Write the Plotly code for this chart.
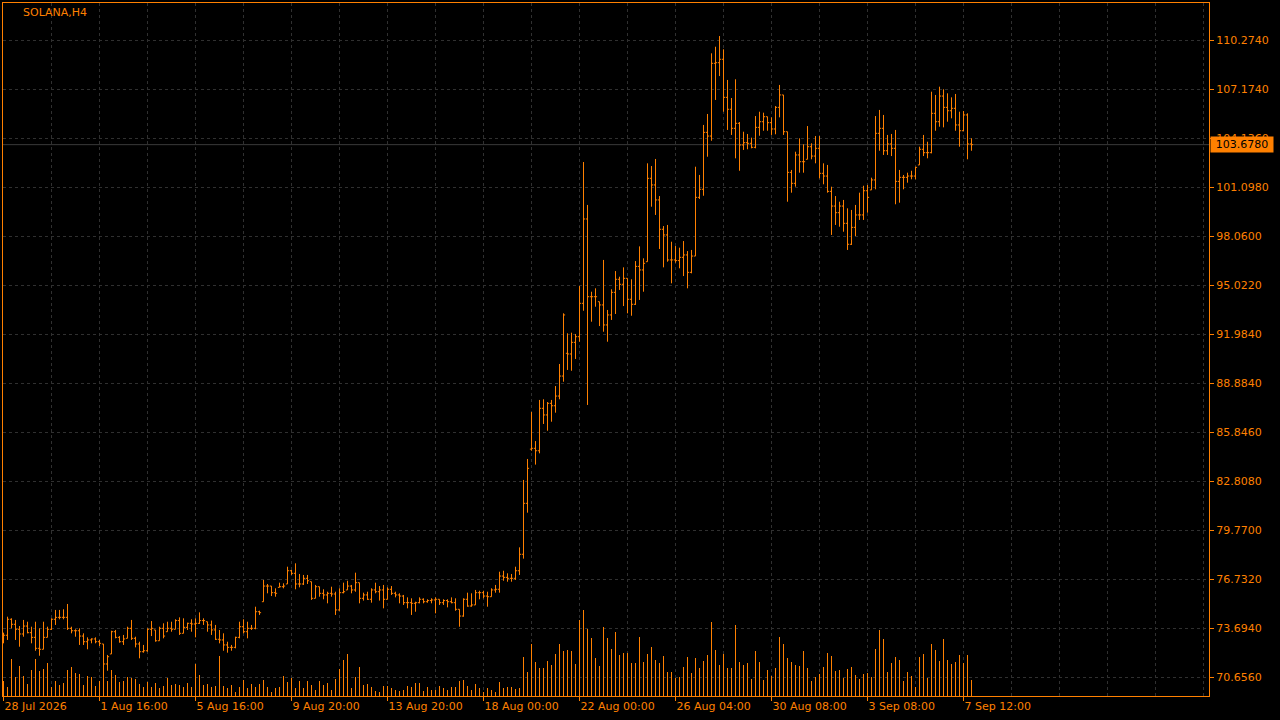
import plotly.graph_objects as go

# ---------------- data (SOLANA, H4) ----------------
bar_index = list(range(243))

opens = [
    73.10, 73.26, 74.25, 73.94, 73.63, 73.34, 73.83, 73.42, 73.13, 72.45,
    72.39, 73.13, 73.63, 74.25, 74.37, 74.37, 74.37, 73.69, 73.54, 73.54,
    73.21, 72.86, 72.97, 73.03, 72.86, 72.72, 71.48, 72.10, 73.48, 73.13,
    72.86, 73.07, 73.69, 73.07, 72.72, 72.24, 72.30, 73.63, 73.59, 72.92,
    73.69, 73.48, 73.69, 73.63, 74.17, 73.38, 73.75, 74.00, 73.96, 74.00,
    74.17, 74.10, 73.90, 73.59, 73.01, 72.97, 72.66, 72.51, 72.51, 73.13,
    73.79, 73.48, 73.69, 73.69, 74.72, 75.34, 76.31, 76.31, 75.90, 76.23,
    76.27, 76.44, 77.26, 77.10, 76.44, 76.44, 76.79, 76.58, 75.55, 76.27,
    75.86, 75.76, 75.86, 75.82, 74.83, 75.90, 76.07, 76.31, 76.07, 76.52,
    75.55, 75.76, 75.49, 76.07, 75.96, 76.07, 75.49, 76.11, 75.86, 75.76,
    75.69, 75.28, 75.28, 75.24, 75.28, 75.49, 75.34, 75.41, 75.45, 75.49,
    75.28, 75.41, 75.34, 75.28, 74.87, 74.45, 75.49, 75.07, 75.14, 75.90,
    75.90, 75.69, 75.65, 76.07, 76.11, 76.93, 76.85, 76.79, 76.79, 77.26,
    78.28, 81.44, 84.80, 84.85, 84.70, 87.33, 86.92, 87.64, 87.49, 88.09,
    89.33, 90.74, 90.70, 91.42, 91.77, 93.84, 99.07, 94.25, 94.25, 93.94,
    93.74, 92.50, 93.12, 94.52, 95.33, 95.02, 95.39, 94.09, 93.78, 96.13,
    95.91, 96.42, 101.59, 101.18, 100.25, 98.43, 98.08, 96.53, 96.53, 96.49,
    96.69, 96.84, 95.76, 96.77, 100.41, 100.91, 104.44, 104.21, 108.72, 108.76,
    108.97, 106.61, 105.87, 104.69, 105.00, 103.66, 103.80, 103.76, 103.51, 104.75,
    105.10, 105.41, 105.04, 104.65, 105.99, 106.76, 104.48, 101.96, 101.28, 103.04,
    102.62, 102.77, 103.55, 102.97, 103.45, 101.90, 101.73, 100.78, 99.87, 99.46,
    99.87, 98.80, 97.50, 98.55, 99.32, 99.32, 100.82, 100.87, 101.49, 104.38,
    104.69, 103.30, 103.72, 103.45, 101.40, 101.65, 101.65, 101.73, 101.73, 102.42,
    103.39, 103.18, 103.18, 105.62, 105.10, 106.69, 105.99, 105.78, 105.93, 104.90,
    104.54, 105.52, 103.72,
]

highs = [
    73.42, 74.41, 74.31, 74.21, 73.83, 74.21, 74.10, 73.79, 74.10, 73.69,
    74.10, 73.79, 74.31, 74.83, 74.83, 74.87, 75.20, 73.79, 73.63, 73.69,
    73.38, 73.13, 73.07, 73.13, 72.97, 72.72, 72.04, 73.54, 73.59, 73.21,
    73.28, 73.79, 74.21, 73.17, 72.86, 72.66, 73.69, 74.14, 73.59, 73.79,
    74.00, 74.10, 74.10, 74.25, 74.37, 74.31, 74.04, 74.25, 74.31, 74.68,
    74.31, 74.10, 74.17, 73.90, 73.59, 73.38, 72.86, 72.66, 73.17, 74.10,
    74.25, 74.10, 73.90, 75.03, 74.78, 76.69, 76.44, 76.31, 76.17, 76.52,
    76.48, 77.51, 77.31, 77.72, 77.06, 77.00, 77.00, 76.58, 76.38, 76.27,
    76.11, 75.96, 76.27, 75.96, 76.17, 76.52, 76.64, 76.38, 77.14, 76.52,
    75.90, 75.96, 76.17, 76.52, 76.31, 76.38, 76.23, 76.31, 75.96, 75.86,
    75.76, 75.61, 75.55, 75.34, 75.61, 75.55, 75.49, 75.55, 75.61, 75.49,
    75.49, 75.49, 75.61, 75.55, 74.87, 75.55, 75.90, 75.86, 76.07, 76.02,
    76.02, 75.96, 76.17, 76.38, 77.20, 77.26, 77.10, 77.06, 77.51, 78.71,
    82.89, 84.19, 87.10, 85.30, 87.85, 87.89, 87.72, 87.85, 88.71, 90.08,
    93.22, 91.98, 92.02, 91.94, 94.91, 102.60, 99.94, 94.56, 94.77, 93.94,
    96.53, 93.43, 94.71, 95.84, 95.49, 96.07, 95.39, 95.33, 96.46, 97.37,
    96.63, 102.52, 102.35, 102.79, 100.49, 98.63, 98.70, 97.66, 97.39, 97.29,
    97.70, 97.08, 97.15, 102.31, 101.80, 104.90, 105.58, 109.34, 109.75, 110.41,
    109.59, 107.69, 106.57, 107.73, 105.08, 104.48, 104.34, 104.11, 105.45, 105.72,
    105.66, 105.41, 105.37, 106.07, 107.38, 106.76, 104.48, 102.11, 103.24, 104.07,
    103.70, 104.83, 103.76, 104.21, 104.21, 102.52, 102.42, 101.07, 100.49, 100.14,
    100.25, 99.73, 99.63, 99.94, 100.70, 101.13, 101.18, 101.63, 105.45, 105.83,
    105.52, 104.28, 104.34, 104.59, 102.11, 101.80, 101.94, 102.06, 102.31, 103.55,
    104.28, 103.86, 106.96, 106.76, 107.27, 107.11, 106.86, 106.61, 106.82, 105.72,
    105.76, 105.62, 104.07,
]

lows = [
    72.76, 72.97, 73.69, 72.97, 72.55, 73.17, 73.38, 72.76, 72.30, 71.99,
    72.39, 73.13, 73.59, 73.90, 74.25, 74.25, 73.59, 73.38, 73.17, 72.66,
    72.66, 72.39, 72.76, 72.76, 72.59, 71.11, 71.06, 72.10, 73.07, 72.80,
    72.66, 73.07, 72.97, 72.51, 71.83, 72.18, 72.24, 73.21, 72.86, 72.92,
    73.07, 73.48, 73.48, 73.63, 73.28, 73.38, 73.59, 73.48, 73.13, 73.96,
    73.90, 73.48, 73.28, 72.97, 72.76, 72.30, 72.18, 72.30, 72.45, 73.07,
    73.38, 73.07, 73.59, 73.63, 74.52, 75.34, 75.86, 75.69, 75.65, 76.23,
    76.17, 76.44, 77.00, 76.11, 76.23, 76.38, 76.44, 75.45, 75.55, 75.65,
    75.49, 75.24, 75.65, 74.52, 74.78, 75.86, 76.07, 75.86, 75.96, 75.24,
    75.41, 75.45, 75.28, 75.86, 75.41, 74.93, 75.49, 75.76, 75.61, 75.24,
    75.14, 74.93, 74.52, 74.72, 75.24, 75.24, 75.28, 75.24, 74.62, 75.14,
    75.14, 74.99, 75.24, 74.78, 73.79, 74.41, 75.03, 75.03, 75.14, 75.49,
    75.55, 75.03, 75.65, 75.90, 75.90, 76.64, 76.58, 76.58, 76.69, 77.00,
    78.01, 80.86, 84.70, 83.84, 84.54, 86.36, 85.94, 86.50, 87.06, 87.89,
    88.98, 89.71, 89.66, 90.39, 91.46, 93.38, 87.54, 92.70, 93.63, 92.43,
    92.08, 91.46, 92.81, 93.18, 94.67, 93.67, 93.22, 93.07, 93.74, 94.05,
    94.56, 96.42, 99.83, 99.32, 97.21, 96.07, 96.42, 95.08, 96.36, 96.01,
    95.53, 94.77, 95.70, 96.77, 100.31, 100.51, 102.93, 103.92, 106.45, 107.93,
    105.72, 104.59, 104.28, 102.83, 102.06, 103.35, 103.39, 103.45, 103.45, 104.23,
    104.54, 104.54, 104.28, 104.32, 105.37, 104.28, 100.14, 100.70, 101.07, 101.94,
    101.94, 102.77, 102.77, 102.52, 101.59, 101.22, 100.70, 98.08, 98.70, 98.59,
    98.28, 97.15, 97.46, 98.01, 99.01, 99.01, 99.46, 100.87, 100.91, 103.30,
    103.04, 103.04, 102.97, 99.98, 100.08, 100.91, 101.32, 101.53, 101.53, 102.42,
    102.97, 102.83, 103.14, 104.54, 104.79, 104.75, 105.10, 105.31, 104.54, 103.55,
    104.52, 102.77, 103.30,
]

closes = [
    73.26, 74.25, 73.94, 73.63, 73.34, 73.83, 73.42, 73.13, 72.45, 72.39,
    73.13, 73.63, 74.25, 74.37, 74.37, 74.37, 73.69, 73.54, 73.54, 73.21,
    72.86, 72.97, 73.03, 72.86, 72.76, 71.48, 71.93, 73.48, 73.13, 72.86,
    73.03, 73.69, 73.07, 72.72, 72.24, 72.30, 73.63, 73.69, 72.92, 73.69,
    73.21, 73.69, 73.63, 74.17, 73.38, 73.75, 74.00, 73.96, 74.00, 74.17,
    74.17, 73.90, 73.59, 73.01, 72.97, 72.66, 72.51, 72.51, 73.13, 73.79,
    73.48, 73.69, 73.69, 74.72, 74.66, 76.31, 76.31, 75.90, 75.86, 76.27,
    76.31, 77.26, 77.10, 76.44, 76.44, 76.79, 76.64, 75.55, 76.27, 75.86,
    75.76, 75.86, 75.82, 74.83, 75.90, 75.96, 76.31, 76.07, 76.52, 75.55,
    75.76, 75.49, 76.07, 75.96, 76.07, 75.49, 76.11, 75.86, 75.76, 75.69,
    75.28, 75.28, 75.24, 75.28, 75.49, 75.34, 75.41, 75.45, 75.49, 75.28,
    75.41, 75.34, 75.28, 74.87, 74.45, 75.49, 75.07, 75.14, 75.90, 75.90,
    75.69, 75.65, 76.07, 76.11, 76.93, 76.85, 76.79, 76.79, 77.26, 78.28,
    81.44, 83.61, 84.85, 84.70, 87.33, 86.92, 87.64, 87.49, 88.09, 89.33,
    93.12, 90.70, 91.42, 91.77, 93.84, 99.07, 94.25, 94.25, 94.25, 93.74,
    92.50, 93.12, 94.52, 95.33, 95.02, 95.39, 94.09, 93.78, 96.13, 95.91,
    96.32, 101.59, 101.18, 100.25, 98.43, 98.08, 96.53, 96.53, 96.49, 96.69,
    96.84, 95.76, 96.77, 100.41, 100.91, 104.44, 104.21, 108.72, 108.76, 108.97,
    106.61, 105.87, 104.69, 105.00, 103.66, 103.80, 103.76, 103.51, 104.75, 105.10,
    105.41, 105.04, 104.65, 105.99, 106.76, 104.48, 101.96, 101.28, 103.04, 102.62,
    102.62, 103.55, 102.97, 103.45, 101.90, 101.73, 100.78, 99.87, 99.46, 99.87,
    98.80, 97.50, 98.55, 99.32, 99.32, 100.82, 100.41, 101.49, 104.38, 104.69,
    103.30, 103.72, 103.45, 101.40, 101.65, 101.65, 101.73, 101.73, 102.27, 103.39,
    103.18, 103.18, 105.62, 105.10, 106.69, 105.99, 105.78, 105.93, 104.90, 104.54,
    105.52, 103.72, 103.678,
]

# tick volume (hundreds of ticks)
volumes = [
    15, 9, 37, 19, 30, 20, 12, 26, 37, 25,
    27, 33, 9, 15, 11, 13, 26, 29, 23, 22,
    11, 20, 19, 10, 15, 52, 15, 26, 21, 14,
    15, 19, 18, 17, 12, 9, 14, 9, 13, 8,
    10, 18, 11, 12, 11, 9, 13, 9, 32, 21,
    11, 12, 9, 10, 40, 10, 8, 11, 4, 9,
    16, 8, 12, 9, 12, 16, 9, 4, 8, 9,
    20, 14, 18, 8, 15, 8, 15, 11, 6, 15,
    11, 13, 6, 17, 27, 36, 42, 8, 19, 29,
    11, 12, 9, 5, 4, 10, 10, 8, 6, 5,
    6, 10, 9, 13, 13, 5, 9, 6, 6, 10,
    8, 6, 9, 9, 15, 16, 10, 6, 12, 8,
    4, 8, 6, 4, 14, 8, 9, 9, 7, 8,
    39, 24, 52, 34, 28, 28, 35, 31, 42, 52,
    45, 46, 45, 32, 76, 86, 67, 58, 38, 30,
    69, 58, 47, 64, 41, 43, 43, 33, 33, 59,
    34, 42, 49, 36, 33, 40, 24, 24, 18, 19,
    29, 39, 23, 38, 28, 35, 41, 74, 46, 31,
    42, 28, 28, 71, 34, 31, 33, 17, 45, 34,
    16, 26, 20, 28, 59, 52, 38, 34, 31, 30,
    45, 28, 15, 19, 22, 29, 43, 40, 25, 26,
    18, 27, 29, 21, 17, 22, 23, 19, 47, 66,
    57, 24, 33, 39, 36, 15, 24, 20, 9, 39,
    42, 18, 52, 46, 35, 57, 36, 32, 34, 41,
    33, 41, 16,
]

x_tick_bars = [0, 24, 48, 72, 96, 120, 144, 168, 192, 216, 240]
x_tick_labels = ["28 Jul 2026", "1 Aug 16:00", "5 Aug 16:00", "9 Aug 20:00",
                 "13 Aug 20:00", "18 Aug 00:00", "22 Aug 00:00", "26 Aug 04:00",
                 "30 Aug 08:00", "3 Sep 08:00", "7 Sep 12:00"]

y_tick_labels = ["70.6560", "73.6940", "76.7320", "79.7700", "82.8080", "85.8460",
                 "88.8840", "91.9840", "95.0220", "98.0600", "101.0980",
                 "104.1360", "107.1740", "110.2740"]

symbol_title = "SOLANA,H4"
last_price = closes[-1]
last_price_label = "103.6780"

# ---------------- style ----------------
ORANGE = "#ff8000"
GRID = "#303030"
FONT = "DejaVu Sans"

assert len(opens) == len(highs) == len(lows) == len(closes) == len(volumes) == len(bar_index)

y_tick_vals = [70.656 + 3.038 * k for k in range(len(y_tick_labels))]

fig = go.Figure()

fig.add_trace(go.Bar(
    x=bar_index, y=volumes, width=0.25, yaxis="y2",
    marker=dict(color=ORANGE, line=dict(width=0)),
    hoverinfo="skip", showlegend=False,
))

fig.add_trace(go.Ohlc(
    x=bar_index, open=opens, high=highs, low=lows, close=closes,
    increasing=dict(line=dict(color=ORANGE, width=1)),
    decreasing=dict(line=dict(color=ORANGE, width=1)),
    tickwidth=0.4, showlegend=False,
))

fig.add_shape(type="line", xref="paper", x0=0, x1=1, yref="y",
              y0=last_price, y1=last_price,
              line=dict(color="#3a3a3a", width=1), layer="below")

fig.add_annotation(xref="paper", yref="paper", x=0.0149, y=0.9856,
                   xanchor="left", yanchor="middle", showarrow=False,
                   text=symbol_title, font=dict(family=FONT, size=11, color=ORANGE))

fig.add_annotation(xref="paper", yref="y", x=1, y=last_price, xanchor="left",
                   yanchor="middle", xshift=1, showarrow=False,
                   text=last_price_label, bgcolor=ORANGE, width=60, height=13,
                   borderpad=1, font=dict(family=FONT, size=11, color="#000000"))

fig.update_layout(
    width=1280, height=720,
    margin=dict(l=3, r=71, t=3, b=24, pad=0),
    paper_bgcolor="#000000", plot_bgcolor="#000000",
    font=dict(family=FONT, size=11, color=ORANGE),
    showlegend=False, hovermode=False, bargap=0,
    xaxis=dict(
        range=[-0.125, 301.375], rangeslider=dict(visible=False),
        tickmode="array", tickvals=x_tick_bars, ticktext=x_tick_labels,
        ticks="outside", ticklen=4, tickcolor=ORANGE, tickwidth=1,
        ticklabelposition="outside right",
        tickfont=dict(family=FONT, size=11, color=ORANGE),
        showgrid=True, gridcolor=GRID, griddash="3px,3px", gridwidth=1,
        minor=dict(tickmode="linear", tick0=0, dtick=12, showgrid=True,
                   gridcolor=GRID, griddash="3px,3px", ticks=""),
        showline=True, linecolor=ORANGE, linewidth=1, mirror=True,
        zeroline=False, fixedrange=True,
    ),
    yaxis=dict(
        side="right", range=[69.494, 112.46],
        tickmode="array", tickvals=y_tick_vals, ticktext=y_tick_labels,
        ticks="outside", ticklen=4, tickcolor=ORANGE, tickwidth=1,
        tickfont=dict(family=FONT, size=11, color=ORANGE),
        showgrid=True, gridcolor=GRID, griddash="3px,3px", gridwidth=1,
        showline=True, linecolor=ORANGE, linewidth=1, mirror=True,
        zeroline=False, fixedrange=True,
    ),
    yaxis2=dict(overlaying="y", range=[0, 693], visible=False, fixedrange=True),
)

fig.write_html(
    "out.html",
    config={"displayModeBar": False, "staticPlot": False},
    post_script="document.body.style.margin='0';document.body.style.overflow='hidden';",
)
